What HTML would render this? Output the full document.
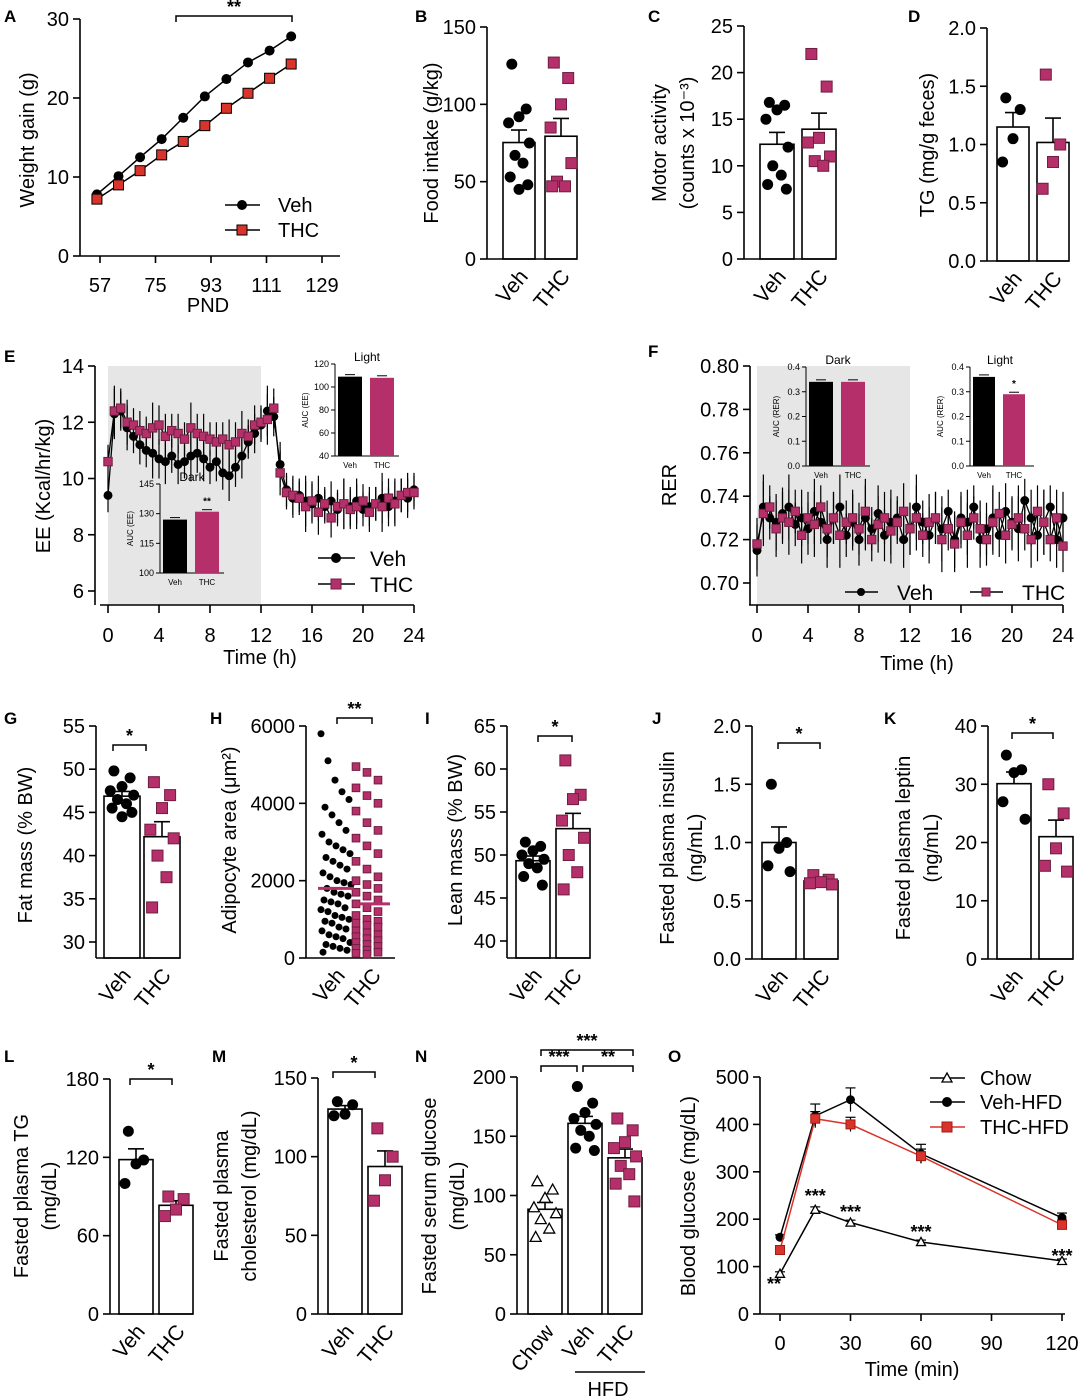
<!DOCTYPE html>
<html><head><meta charset="utf-8"><style>
html,body{margin:0;padding:0;background:#fff}
svg{display:block;font-family:"Liberation Sans",Arial,sans-serif}
</style></head><body>
<svg id="fig" width="1080" height="1398" viewBox="0 0 1080 1398"></svg>
<script>
// ---------------- DATA ----------------
const aPND=[56,63,70,77,84,91,98,105,112,119];
const aVeh=[7.8,10.1,12.5,14.8,17.5,20.2,22.4,24.5,26.0,27.8];
const aTHC=[7.2,9.0,10.8,12.8,14.5,16.5,18.7,20.6,22.5,24.3];
const bVeh=[126,97,92,88,75,67,62,53,48,45], bTHC=[127,117,100,85,62,50,47,47];
const cVeh=[16.8,16.5,16,15,12,10,9,8,7.5], cTHC=[22,18.5,13,12.5,11,10.5,10];
const dVeh=[1.4,1.3,1.05,0.85], dTHC=[1.6,1.0,0.85,0.62];
const gVeh=[49.8,49,48,47.5,47,46.5,46,45.5,45,44.5], gTHC=[48.5,47,45.5,43,42,40,37.5,34];
const hVeh=[5800,5100,4600,4300,4100,3900,3700,3500,3300,3200,3000,2900,2800,2700,2600,2500,2400,2300,2200,2100,2000,1950,1900,1800,1700,1650,1600,1500,1450,1400,1300,1250,1200,1100,1050,1000,950,900,800,750,700,600,550,500,400,350,300,250,200,150];
const hTHC=[4950,4800,4600,4400,4200,4000,3800,3500,3300,3100,2900,2700,2500,2300,2100,2000,1900,1800,1700,1600,1500,1400,1300,1200,1100,1000,950,900,850,800,700,650,600,550,500,450,400,350,300,250,200,150,120,100];
const hMeans=[1800,1400];
const iVeh=[51.5,51,50.5,50,49.5,49,48.5,47.5,46.5], iTHC=[61,57,56.5,54,52,50,48,46];
const jVeh=[1.5,1.0,0.95,0.8,0.75], jTHC=[0.72,0.68,0.66,0.65,0.64];
const kVeh=[35,32.5,32,27,24], kTHC=[30,25,19,16,15];
const lVeh=[140,118,115,100], lTHC=[90,88,80,75];
const mVeh=[135,133,127,126], mTHC=[118,100,85,72];
const nChow=[112,105,98,90,85,80,72,65], nVeh=[192,178,170,165,160,155,150,140,138], nTHC=[165,155,145,140,133,125,118,110,95];
const oTime=[0,15,30,60,120];
const oChow=[85,220,193,152,112], oVeh=[162,418,452,338,203], oTHC=[135,412,400,333,188];
const oVehSem=[5,25,25,20,10], oTHCSem=[5,15,15,15,10];
const eVeh=[9.4,12.3,12.4,11.8,11.5,11.2,11.0,10.9,10.7,10.6,10.8,10.5,10.6,10.8,10.9,10.7,10.4,10.6,10.2,10.1,10.4,10.8,11.3,11.6,11.9,12.4,12.2,10.5,9.6,9.3,9.4,9.2,9.1,9.3,9.0,9.2,8.9,9.1,9.0,9.2,8.9,9.0,9.1,9.3,9.0,9.2,9.4,9.3,9.6];
const eTHC=[10.6,12.4,12.5,12.0,11.9,11.7,11.6,11.8,11.9,11.5,11.7,11.6,11.4,11.8,11.6,11.5,11.4,11.3,11.4,11.2,11.3,11.6,11.5,11.9,12.0,12.1,12.5,10.2,9.5,9.4,9.3,9.0,9.2,8.8,9.1,8.6,9.0,9.1,8.9,9.0,9.2,8.8,9.1,9.0,9.3,9.1,9.4,9.5,9.5];
const fVeh=[0.715,0.735,0.73,0.728,0.732,0.735,0.727,0.73,0.725,0.733,0.728,0.72,0.73,0.735,0.722,0.728,0.72,0.73,0.725,0.732,0.722,0.728,0.73,0.72,0.725,0.735,0.728,0.722,0.73,0.725,0.733,0.72,0.73,0.728,0.735,0.72,0.725,0.73,0.722,0.733,0.728,0.725,0.738,0.73,0.722,0.728,0.735,0.72,0.73];
const fTHC=[0.718,0.732,0.735,0.725,0.73,0.728,0.733,0.722,0.73,0.727,0.735,0.725,0.73,0.722,0.728,0.73,0.725,0.733,0.72,0.727,0.73,0.724,0.728,0.733,0.725,0.73,0.722,0.728,0.73,0.72,0.725,0.718,0.728,0.722,0.73,0.725,0.72,0.728,0.732,0.722,0.727,0.73,0.725,0.72,0.733,0.728,0.72,0.73,0.717];
const eLightAUC=[109,108], eDarkAUC=[127,131], fDarkAUC=[0.34,0.34], fLightAUC=[0.36,0.29];

// ---------------- HELPERS ----------------
const NS='http://www.w3.org/2000/svg';
const svg=document.getElementById('fig');
const MAG='#b5306a', MAGD='#6e1f3e', RED='#d9342b';
function mk(tag,attrs,name,parent){
  const el=document.createElementNS(NS,tag);
  for(const k in attrs) el.setAttribute(k,attrs[k]);
  
  
  (parent||svg).appendChild(el);
  return el;
}
function line(x1,y1,x2,y2,name,w,c){return mk('line',{x1,y1,x2,y2,stroke:c||'#000','stroke-width':w||1.6},name);}
function txt(x,y,s,size,anchor,name,rot,weight,fill){
  const a={x,y,'font-size':size,'text-anchor':anchor||'middle',fill:fill||'#000'};
  if(weight)a['font-weight']=weight;
  if(rot!==undefined)a.transform=`rotate(${rot} ${x} ${y})`;
  const t=mk('text',a,name);t.textContent=s;return t;
}
function marker(kind,x,y,r,name){
  if(kind==='c') return mk('circle',{cx:x,cy:y,r,fill:'#000'},name);
  if(kind==='s') return mk('rect',{x:x-r,y:y-r,width:2*r,height:2*r,fill:MAG,stroke:MAGD,'stroke-width':1},name);
  if(kind==='sr') return mk('rect',{x:x-r,y:y-r,width:2*r,height:2*r,fill:RED,stroke:'#a01c15','stroke-width':1},name);
  if(kind==='t') return mk('path',{d:`M${x} ${y-r}L${x+r} ${y+r*0.8}L${x-r} ${y+r*0.8}Z`,fill:'#fff',stroke:'#000','stroke-width':1.3},name);
}
const JIT=[-9,9,0,-13,13,-5,5,-11,11,0,-7,7];
function mean(a){return a.reduce((s,v)=>s+v,0)/a.length;}
function sem(a){const m=mean(a);return Math.sqrt(a.reduce((s,v)=>s+(v-m)*(v-m),0)/(a.length-1))/Math.sqrt(a.length);}
function yAxis(p){
  const ys=v=>p.yb-(v-p.min)/(p.max-p.min)*(p.yb-p.yt);
  line(p.ax,p.yt,p.ax,p.base||p.yb,p.id+'-y-axis');
  p.ticks.forEach(t=>{const y=ys(t);line(p.ax-7,y,p.ax,y,p.id+'-y-tick');
    txt(p.ax-11,y+7,p.fmt?p.fmt(t):String(t),p.fs||20,'end',p.id+'-y-tick-label');});
  return ys;
}
function ylabel(lines,xs,yc,name){lines.forEach((s,i)=>txt(xs[i],yc,s,20,'middle',name,-90));}
function bracket(x1,x2,y,s,name){
  mk('path',{d:`M${x1} ${y+6}V${y}H${x2}V${y+6}`,fill:'none',stroke:'#000','stroke-width':1.5},name);
  txt((x1+x2)/2,y-3,s,18,'middle',name+'-stars',undefined,'bold');
}
function barPanel(p){
  const ys=yAxis(p);
  const base=p.base||p.yb;
  let x=p.bx;
  p.groups.forEach((g,i)=>{
    const m=mean(g.pts), se=sem(g.pts), cx=x+p.bw/2;
    mk('rect',{x,y:ys(m),width:p.bw,height:base-ys(m),fill:'#fff',stroke:'#000','stroke-width':1.6},p.id+'-bar-'+g.label.toLowerCase());
    line(cx,ys(m),cx,ys(m+se),p.id+'-error-bar');
    line(cx-8,ys(m+se),cx+8,ys(m+se),p.id+'-error-cap');
    g.pts.forEach((v,j)=>marker(g.kind,cx+JIT[j%JIT.length]*(p.bw/40),ys(v),5.5,p.id+'-point-'+g.label.toLowerCase()));
    txt(cx+10,base+18,g.label,21,'end',p.id+'-x-label-'+g.label.toLowerCase(),-50);
    x+=p.bw+p.gap;
  });
  line(p.ax,base,x-p.gap,base,p.id+'-x-axis');
  return ys;
}
function letter(s,x,y){txt(x,y,s,17,'start','panel-label-'+s.toLowerCase(),undefined,'bold');}

// ---------------- PANEL A ----------------
letter('A',4,22);
(function(){
  const xs=v=>100+(v-57)/18*55.5, ys=v=>256-v*7.9;
  line(80,19,80,256,'a-y-axis');line(80,256,340,256,'a-x-axis');
  [0,10,20,30].forEach(t=>{line(73,ys(t),80,ys(t),'a-y-tick');txt(69,ys(t)+7,String(t),20,'end','a-y-tick-label');});
  [57,75,93,111,129].forEach(t=>{line(xs(t),256,xs(t),263,'a-x-tick');txt(xs(t),292,String(t),20,'middle','a-x-tick-label');});
  txt(208,312,'PND',20,'middle','a-x-axis-title');
  txt(34,140,'Weight gain (g)',20,'middle','a-y-axis-title',-90);
  [[aVeh,'c','veh'],[aTHC,'s','thc']].forEach(([d,k,n])=>{
    mk('polyline',{points:d.map((v,i)=>xs(aPND[i])+','+ys(v)).join(' '),fill:'none',stroke:'#000','stroke-width':1.5},'a-line-'+n);
    d.forEach((v,i)=>k==='c'?marker('c',xs(aPND[i]),ys(v),5,'a-point-'+n):mk('rect',{x:xs(aPND[i])-5,y:ys(v)-5,width:10,height:10,fill:RED,stroke:'#000','stroke-width':1},'a-point-'+n));
  });
  bracket(176,292,16,'**','a-significance');
  line(225,205,260,205,'a-legend-line-veh');marker('c',242,205,5,'a-legend-marker-veh');txt(278,212,'Veh',20,'start','a-legend-veh');
  line(225,230,260,230,'a-legend-line-thc');mk('rect',{x:237,y:225,width:10,height:10,fill:RED,stroke:'#000'},'a-legend-marker-thc');txt(278,237,'THC',20,'start','a-legend-thc');
})();

// ---------------- B, C, D ----------------
letter('B',415,22);
barPanel({id:'b',ax:487,yb:259,yt:27,min:0,max:150,ticks:[0,50,100,150],bx:503,bw:32,gap:10,groups:[{label:'Veh',pts:bVeh,kind:'c'},{label:'THC',pts:bTHC,kind:'s'}]});
ylabel(['Food intake (g/kg)'],[438],143,'b-y-axis-title');
letter('C',648,22);
barPanel({id:'c',ax:744,yb:259,yt:26,min:0,max:25,ticks:[0,5,10,15,20,25],bx:760,bw:34,gap:8,groups:[{label:'Veh',pts:cVeh,kind:'c'},{label:'THC',pts:cTHC,kind:'s'}]});
ylabel(['Motor activity','(counts x 10\u207B\u00B3)'],[666,694],143,'c-y-axis-title');
letter('D',908,22);
barPanel({id:'d',ax:987,yb:261,yt:28,min:0,max:2,ticks:[0,0.5,1,1.5,2],fmt:v=>v.toFixed(1),bx:997,bw:32,gap:8,groups:[{label:'Veh',pts:dVeh,kind:'c'},{label:'THC',pts:dTHC,kind:'s'}]});
ylabel(['TG (mg/g feces)'],[934],145,'d-y-axis-title');

// ---------------- E ----------------
letter('E',4,362);
function timePanel(p){
  mk('rect',{x:p.x0,y:p.yt,width:p.xs(12)-p.x0,height:p.base-p.yt,fill:'#e6e6e6'},p.id+'-dark-phase-shading');
  line(p.ax,p.yt,p.ax,p.base,p.id+'-y-axis');
  line(p.x0-8,p.base,p.xs(24),p.base,p.id+'-x-axis');
  p.ticks.forEach(t=>{line(p.ax-7,p.ys(t),p.ax,p.ys(t),p.id+'-y-tick');txt(p.ax-11,p.ys(t)+7,p.fmt(t),20,'end',p.id+'-y-tick-label');});
  [0,4,8,12,16,20,24].forEach(t=>{line(p.xs(t),p.base,p.xs(t),p.base+8,p.id+'-x-tick');txt(p.xs(t),p.base+37,String(t),20,'middle',p.id+'-x-tick-label');});
  [[p.v,'c','veh'],[p.t,'s','thc']].forEach(([d,k,n])=>{
    d.forEach((v,i)=>{const x=p.xs(i*0.5);line(x,p.ys(v-p.err[i%p.err.length]),x,p.ys(v+p.err[i%p.err.length]),p.id+'-error-'+n,1.2);});
    mk('polyline',{points:d.map((v,i)=>p.xs(i*0.5)+','+p.ys(v)).join(' '),fill:'none',stroke:'#000','stroke-width':1.3},p.id+'-line-'+n);
    d.forEach((v,i)=>marker(k,p.xs(i*0.5),p.ys(v),k==='c'?4.5:4.2,p.id+'-point-'+n));
  });
}
const eErr=[0.6,0.9,0.7,0.8,0.6,0.7];
timePanel({id:'e',x0:108,ax:95,yt:366,base:605,xs:h=>108+h/24*306,ys:v=>591-(v-6)/8*225,ticks:[6,8,10,12,14],fmt:v=>String(v),v:eVeh,t:eTHC,err:eErr});
txt(260,664,'Time (h)',20,'middle','e-x-axis-title');
txt(50,486,'EE (Kcal/hr/kg)',20,'middle','e-y-axis-title',-90);
function inset(p){
  const ys=v=>p.yb-(v-p.min)/(p.max-p.min)*(p.yb-p.yt);
  line(p.ax,p.yt,p.ax,p.yb,p.id+'-y-axis',1);line(p.ax,p.yb,p.ax+64,p.yb,p.id+'-x-axis',1);
  p.ticks.forEach(t=>{line(p.ax-4,ys(t),p.ax,ys(t),p.id+'-tick',1);txt(p.ax-6,ys(t)+3,p.fmt(t),9,'end',p.id+'-tick-label');});
  p.vals.forEach((v,i)=>{const x=p.ax+3+i*(p.bw+8);
    mk('rect',{x,y:ys(v),width:p.bw,height:p.yb-ys(v),fill:i?MAG:'#000'},p.id+'-bar-'+(i?'thc':'veh'));
    line(x+p.bw/2-5,ys(v)-2,x+p.bw/2+5,ys(v)-2,p.id+'-error-cap',1);
    txt(x+p.bw/2,p.yb+12,i?'THC':'Veh',8,'middle',p.id+'-x-label');});
  txt(p.ax+p.bw+8,p.yt-3,p.title,12,'middle',p.id+'-title');
  txt(p.ax-27,(p.yt+p.yb)/2,p.ylab,8,'middle',p.id+'-y-title',-90);
  if(p.star)txt(p.ax+p.bw*1.5+11,ys(p.vals[1])-7,p.star,10,'middle',p.id+'-stars',undefined,'bold');
}
inset({id:'e-light-inset',ax:335,yt:364,yb:456,min:40,max:120,ticks:[40,60,80,100,120],fmt:String,vals:eLightAUC,bw:24,title:'Light',ylab:'AUC (EE)'});
inset({id:'e-dark-inset',ax:160,yt:484,yb:573,min:100,max:145,ticks:[100,115,130,145],fmt:String,vals:eDarkAUC,bw:24,title:'Dark',ylab:'AUC (EE)',star:'**'});
line(318,558,355,558,'e-legend-line-veh');marker('c',336,558,5,'e-legend-marker-veh');txt(370,566,'Veh',21,'start','e-legend-veh');
line(318,584,355,584,'e-legend-line-thc');marker('s',336,584,5,'e-legend-marker-thc');txt(370,592,'THC',21,'start','e-legend-thc');

// ---------------- F ----------------
letter('F',648,357);
const fErr=[0.012,0.015,0.01,0.013];
timePanel({id:'f',x0:757,ax:750,yt:366,base:605,xs:h=>757+h/24*306,ys:v=>583-(v-0.70)/0.10*217,ticks:[0.70,0.72,0.74,0.76,0.78,0.80],fmt:v=>v.toFixed(2),v:fVeh,t:fTHC,err:fErr});
txt(917,670,'Time (h)',20,'middle','f-x-axis-title');
txt(676,485,'RER',20,'middle','f-y-axis-title',-90);
inset({id:'f-dark-inset',ax:806,yt:367,yb:466,min:0,max:0.4,ticks:[0,0.1,0.2,0.3,0.4],fmt:v=>v.toFixed(1),vals:fDarkAUC,bw:24,title:'Dark',ylab:'AUC (RER)'});
inset({id:'f-light-inset',ax:970,yt:367,yb:466,min:0,max:0.4,ticks:[0,0.1,0.2,0.3,0.4],fmt:v=>v.toFixed(1),vals:fLightAUC,bw:22,title:'Light',ylab:'AUC (RER)',star:'*'});
line(845,592,878,592,'f-legend-line-veh');marker('c',861,592,4,'f-legend-marker-veh');txt(897,600,'Veh',21,'start','f-legend-veh');
line(970,592,1003,592,'f-legend-line-thc');marker('s',986,592,4,'f-legend-marker-thc');txt(1022,600,'THC',21,'start','f-legend-thc');

// ---------------- G - K ----------------
letter('G',4,724);
barPanel({id:'g',ax:96,yb:942,yt:726,base:958,min:30,max:55,ticks:[30,35,40,45,50,55],bx:104,bw:36,gap:4,groups:[{label:'Veh',pts:gVeh,kind:'c'},{label:'THC',pts:gTHC,kind:'s'}]});
ylabel(['Fat mass (% BW)'],[32],845,'g-y-axis-title');bracket(113,146,745,'*','g-significance');
letter('H',210,724);
(function(){
  const p={id:'h',ax:306,yb:958,yt:726,min:0,max:6000,ticks:[0,2000,4000,6000]};
  const ys=yAxis(p);
  line(306,958,395,958,'h-x-axis');
  hVeh.forEach((v,i)=>marker('c',336+((i*7)%31-15),ys(v),3.5,'h-point-veh'));
  hTHC.forEach((v,i)=>marker('s',372+((i*11)%33-16),ys(v),3.8,'h-point-thc'));
  hMeans.forEach((m,i)=>line((i?372:336)-18,ys(m),(i?372:336)+18,ys(m),'h-mean-line',3,MAG));
  txt(346,976,'Veh',21,'end','h-x-label-veh',-50);txt(382,976,'THC',21,'end','h-x-label-thc',-50);
  ylabel(['Adipocyte area (\u03BCm\u00B2)'],[236],840,'h-y-axis-title');bracket(337,372,718,'**','h-significance');
})();
letter('I',425,724);
barPanel({id:'i',ax:507,yb:941,yt:726,base:958,min:40,max:65,ticks:[40,45,50,55,60,65],bx:516,bw:34,gap:6,groups:[{label:'Veh',pts:iVeh,kind:'c'},{label:'THC',pts:iTHC,kind:'s'}]});
ylabel(['Lean mass (% BW)'],[462],840,'i-y-axis-title');bracket(538,572,736,'*','i-significance');
letter('J',652,724);
barPanel({id:'j',ax:752,yb:959,yt:726,min:0,max:2,ticks:[0,0.5,1,1.5,2],fmt:v=>v.toFixed(1),bx:762,bw:34,gap:8,groups:[{label:'Veh',pts:jVeh,kind:'c'},{label:'THC',pts:jTHC,kind:'s'}]});
ylabel(['Fasted plasma insulin','(ng/mL)'],[674,702],848,'j-y-axis-title');bracket(778,820,743,'*','j-significance');
letter('K',884,724);
barPanel({id:'k',ax:988,yb:959,yt:726,min:0,max:40,ticks:[0,10,20,30,40],bx:997,bw:34,gap:8,groups:[{label:'Veh',pts:kVeh,kind:'c'},{label:'THC',pts:kTHC,kind:'s'}]});
ylabel(['Fasted plasma leptin','(ng/mL)'],[910,938],848,'k-y-axis-title');bracket(1012,1053,733,'*','k-significance');

// ---------------- L - N ----------------
letter('L',4,1062);
barPanel({id:'l',ax:110,yb:1314,yt:1079,min:0,max:180,ticks:[0,60,120,180],bx:119,bw:34,gap:6,groups:[{label:'Veh',pts:lVeh,kind:'c'},{label:'THC',pts:lTHC,kind:'s'}]});
ylabel(['Fasted plasma TG','(mg/dL)'],[28,56],1196,'l-y-axis-title');bracket(130,172,1079,'*','l-significance');
letter('M',212,1062);
barPanel({id:'m',ax:318,yb:1314,yt:1078,min:0,max:150,ticks:[0,50,100,150],bx:328,bw:34,gap:6,groups:[{label:'Veh',pts:mVeh,kind:'c'},{label:'THC',pts:mTHC,kind:'s'}]});
ylabel(['Fasted plasma','cholesterol (mg/dL)'],[228,256],1196,'m-y-axis-title');bracket(333,375,1072,'*','m-significance');
letter('N',415,1062);
barPanel({id:'n',ax:517,yb:1314,yt:1077,min:0,max:200,ticks:[0,50,100,150,200],bx:528,bw:34,gap:6,groups:[{label:'Chow',pts:nChow,kind:'t'},{label:'Veh',pts:nVeh,kind:'c'},{label:'THC',pts:nTHC,kind:'s'}]});
ylabel(['Fasted serum glucose','(mg/dL)'],[436,464],1196,'n-y-axis-title');
bracket(541,633,1050,'***','n-significance-chow-thc');bracket(541,577,1066,'***','n-significance-chow-veh');bracket(583,633,1066,'**','n-significance-veh-thc');
line(575,1372,645,1372,'n-hfd-line');txt(608,1396,'HFD',20,'middle','n-hfd-label');

// ---------------- O ----------------
letter('O',668,1062);
(function(){
  const xs=t=>780+t/30*70.5, ys=v=>1314-v/500*237;
  line(760,1077,760,1314,'o-y-axis');line(760,1314,1065,1314,'o-x-axis');
  [0,100,200,300,400,500].forEach(t=>{line(753,ys(t),760,ys(t),'o-y-tick');txt(749,ys(t)+7,String(t),20,'end','o-y-tick-label');});
  [0,30,60,90,120].forEach(t=>{line(xs(t),1314,xs(t),1321,'o-x-tick');txt(xs(t),1350,String(t),20,'middle','o-x-tick-label');});
  txt(912,1376,'Time (min)',20,'middle','o-x-axis-title');
  txt(695,1196,'Blood glucose (mg/dL)',20,'middle','o-y-axis-title',-90);
  [[oVeh,oVehSem,'#000','c','veh-hfd'],[oTHC,oTHCSem,RED,'sr','thc-hfd'],[oChow,[4,6,5,4,4],'#000','t','chow']].forEach(([d,se,c,k,n])=>{
    d.forEach((v,i)=>{line(xs(oTime[i]),ys(v-se[i]),xs(oTime[i]),ys(v+se[i]),'o-error-'+n,1.2);line(xs(oTime[i])-5,ys(v+se[i]),xs(oTime[i])+5,ys(v+se[i]),'o-error-cap-'+n,1.2);});
    mk('polyline',{points:d.map((v,i)=>xs(oTime[i])+','+ys(v)).join(' '),fill:'none',stroke:c,'stroke-width':1.5},'o-line-'+n);
    d.forEach((v,i)=>marker(k,xs(oTime[i]),ys(v),4.5,'o-point-'+n));
  });
  [['**',0,1290],['***',15,1202],['***',30,1218],['***',60,1238],['***',120,1262]].forEach(([s,t,y])=>txt(xs(t)-(t?0:6),y,s,18,'middle','o-significance',undefined,'bold'));
  line(930,1078,965,1078,'o-legend-line-chow');marker('t',947,1078,5,'o-legend-marker-chow');txt(980,1085,'Chow',20,'start','o-legend-chow');
  line(930,1102,965,1102,'o-legend-line-veh');marker('c',947,1102,5,'o-legend-marker-veh');txt(980,1109,'Veh-HFD',20,'start','o-legend-veh-hfd');
  line(930,1127,965,1127,'o-legend-line-thc',1.6,RED);marker('sr',947,1127,5,'o-legend-marker-thc');txt(980,1134,'THC-HFD',20,'start','o-legend-thc-hfd');
})();
</script>
</body></html>
